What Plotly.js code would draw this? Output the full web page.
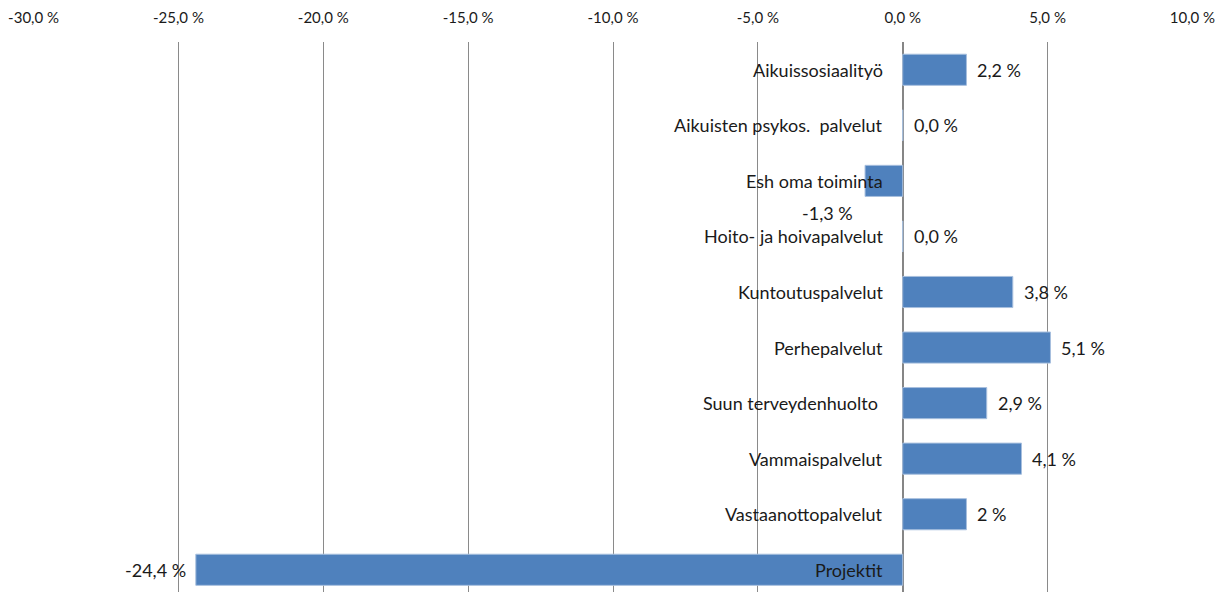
<!DOCTYPE html>
<html>
<head>
<meta charset="utf-8">
<script src="https://cdn.plot.ly/plotly-3.0.1.min.js"></script>
<style>
html,body{margin:0;padding:0;background:#fff;}
#chart{width:1227px;height:592px;}
</style>
</head>
<body>
<div id="chart"></div>
<script>
const categories = ["Aikuissosiaalityö","Aikuisten psykos.  palvelut","Esh oma toiminta","Hoito- ja hoivapalvelut","Kuntoutuspalvelut","Perhepalvelut","Suun terveydenhuolto ","Vammaispalvelut","Vastaanottopalvelut","Projektit"];
const values = [2.2, 0.0, -1.3, 0.0, 3.8, 5.1, 2.9, 4.1, 2.2, -24.4];
const valueLabels = ["2,2 %","0,0 %","-1,3 %","0,0 %","3,8 %","5,1 %","2,9 %","4,1 %","2 %","-24,4 %"];
const tickValues = [-30,-25,-20,-15,-10,-5,0,5,10];
const tickLabels = ["-30,0 %","-25,0 %","-20,0 %","-15,0 %","-10,0 %","-5,0 %","0,0 %","5,0 %","10,0 %"];

const font = "Lato, 'Open Sans', sans-serif";
const textColor = "#1a1a1a";

const trace = {
  type: "bar",
  orientation: "h",
  x: values,
  y: categories,
  marker: {color: "#4F81BD", line: {color: "#A7BFDE", width: 1}},
  hoverinfo: "none",
  showlegend: false
};

const annotations = [];
categories.forEach((c, i) => {
  annotations.push({
    x: 0, y: c, xref: "x", yref: "y",
    text: c, showarrow: false, xanchor: "right", yanchor: "middle",
    xshift: -18, font: {family: font, size: 18, color: textColor}
  });
  const v = values[i];
  let a = {x: v, y: c, xref: "x", yref: "y", text: valueLabels[i], showarrow: false,
    yanchor: "middle", font: {family: font, size: 18, color: textColor}};
  if (v >= 0) { a.xanchor = "left"; a.xshift = 9; }
  else if (v > -3) { a.xanchor = "right"; a.xshift = -10; a.yshift = -32; }
  else { a.xanchor = "right"; a.xshift = -8; }
  annotations.push(a);
});

const layout = {
  width: 1227, height: 592,
  margin: {l: 33, r: 34, t: 42, b: 0, pad: 0},
  paper_bgcolor: "#fff", plot_bgcolor: "#fff",
  bargap: 0.44,
  xaxis: {
    side: "top", range: [-30.02, 10.02], tickvals: tickValues, ticktext: tickLabels,
    showgrid: true, gridcolor: "#8a8a8a", gridwidth: 1,
    zeroline: true, zerolinecolor: "#868686", zerolinewidth: 2,
    showline: false, ticks: "outside", ticklen: 12, tickcolor: "rgba(0,0,0,0)",
    tickfont: {family: font, size: 15, color: textColor}
  },
  yaxis: {
    type: "category", range: [9.4, -0.5], showticklabels: false, showgrid: false,
    zeroline: false, showline: false, ticks: ""
  },
  annotations: annotations
};

Plotly.newPlot("chart", [trace], layout, {displayModeBar: false, staticPlot: true});
</script>
</body>
</html>
